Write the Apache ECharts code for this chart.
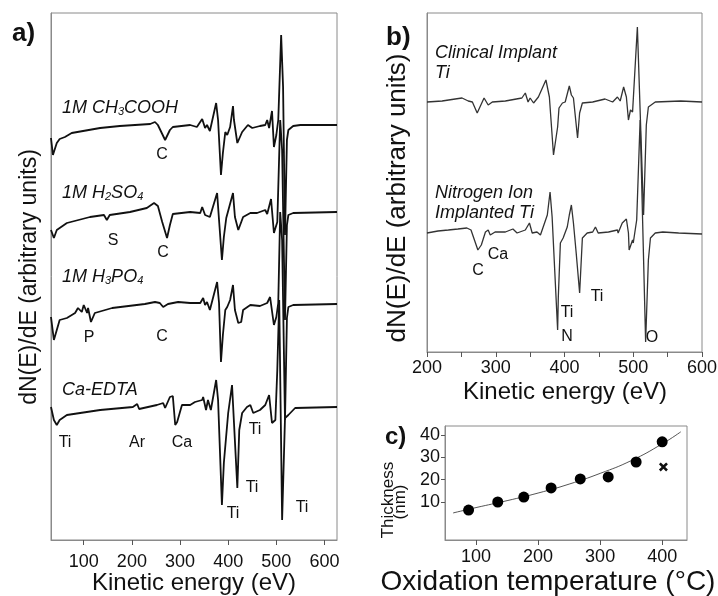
<!DOCTYPE html>
<html><head><meta charset="utf-8">
<script src="https://cdn.jsdelivr.net/npm/echarts@6/dist/echarts.min.js"></script>
<style>html,body{margin:0;padding:0;background:#fff}#c{width:718px;height:596px}</style>
</head><body><div id="c"></div>
<script>
// ---- Panel a: AES spectra (kinetic energy eV, arbitrary units) ----
const aTicks = [100, 200, 300, 400, 500, 600];
const specCH3COOH = [[32,402],[34,400],[36,385],[44,397],[50,401],[61,403],[75,407],[134,412],[175,414],[238,416],[248,418],[254,415],[263,406],[269,400],[273,402],[279,410],[285,413],[321,415],[335,413],[346,421],[352,412],[356,415],[362,409],[375,437],[379,420],[385,365],[389,387],[394,408],[398,405],[404,413],[410,434],[412,420],[419,397],[423,395],[429,408],[441,415],[450,412],[466,414],[477,415],[481,420],[485,412],[491,429],[495,393],[500,405],[504,420],[510,505],[514,453],[518,305],[522,400],[525,410],[535,414],[550,415],[626,415]];
const specH2SO4 = [[32,310],[38,302],[44,310],[65,317],[113,323],[142,325],[148,320],[154,325],[196,328],[231,332],[246,337],[254,334],[263,318],[273,302],[279,315],[285,326],[321,328],[342,327],[346,333],[352,325],[362,323],[377,347],[381,320],[387,280],[391,303],[396,322],[400,320],[410,347],[414,323],[421,310],[425,312],[431,323],[446,327],[460,327],[477,330],[481,326],[489,341],[495,307],[502,318],[508,420],[512,390],[518,220],[522,315],[525,325],[535,327],[626,328]];
const specH3PO4 = [[32,223],[34,223],[38,200],[44,210],[50,220],[65,222],[82,227],[88,232],[96,228],[100,235],[107,227],[109,232],[115,218],[123,227],[159,232],[227,236],[248,238],[258,237],[265,233],[275,236],[296,238],[321,237],[342,237],[348,242],[352,235],[356,238],[362,230],[377,258],[381,237],[385,178],[389,205],[394,230],[398,233],[404,240],[410,255],[414,230],[421,217],[427,218],[431,230],[446,235],[466,234],[481,237],[487,243],[495,215],[500,223],[504,237],[508,328],[512,300],[518,120],[522,222],[525,233],[535,235],[626,236]];
const specCaEDTA = [[32,133],[34,132],[38,120],[44,115],[50,120],[65,125],[134,130],[202,133],[211,136],[215,131],[252,135],[265,137],[269,132],[279,143],[285,144],[290,115],[294,118],[304,135],[321,135],[331,138],[346,140],[348,143],[354,130],[358,140],[364,130],[375,160],[379,140],[387,35],[391,77],[400,127],[408,155],[412,153],[419,52],[423,110],[429,127],[439,133],[446,135],[452,127],[466,130],[477,135],[485,145],[491,117],[498,120],[502,170],[506,240],[512,20],[518,122],[525,125],[539,132],[626,133]];

// ---- Panel b ----
const specClinical = [[200,250],[222,251],[241,253],[251,254],[260,251],[266,250],[273,239],[277,245],[283,254],[289,247],[295,250],[314,251],[338,254],[343,259],[347,250],[350,254],[355,249],[362,255],[373,272],[378,255],[384,197],[390,225],[392,244],[397,249],[401,250],[407,266],[410,257],[413,254],[419,214],[422,239],[426,249],[441,250],[459,253],[470,250],[477,255],[481,251],[486,265],[490,255],[493,232],[496,242],[499,240],[506,325],[515,137],[519,227],[522,245],[532,250],[569,251],[600,250]];
const specNitrogen = [[200,119],[216,121],[231,122],[245,123],[258,124],[264,122],[274,102],[279,107],[285,120],[289,122],[292,117],[299,120],[314,120],[325,123],[331,119],[343,122],[349,129],[353,119],[360,120],[365,117],[369,125],[375,137],[379,160],[382,135],[390,22],[391,55],[394,109],[398,114],[404,125],[407,137],[410,147],[413,129],[417,99],[422,59],[426,114],[433,119],[441,120],[445,125],[449,119],[464,120],[477,122],[478,119],[484,129],[490,133],[493,119],[494,102],[499,112],[500,109],[505,132],[510,232],[518,10],[522,92],[525,114],[532,119],[543,120],[566,119],[600,118]];
const bLabelTicks = [200, 300, 400, 500, 600];

// ---- Panel c ----
const tempC = [88, 135, 177, 221, 268, 313, 358, 400];
const thicknessNm = [6.4, 10, 12.2, 16.3, 20.3, 21.2, 27.9, 36.9];
const crossTemp = [402];
const crossThick = [25.7];
const fitTemp = [63, 100, 150, 200, 250, 300, 350, 400, 430];
const fitThick = [5.1, 7.5, 10.6, 14, 18, 22.8, 28.5, 36, 41.4];
const cXTicks = [100, 200, 300, 400];
const cYTicks = [10, 20, 30, 40];

const FONT = 'Liberation Sans, Arial, sans-serif';
const frame = '#8a8a8a';

function spec(data, idx, color, width) {
  return { type: 'line', data: data, xAxisIndex: idx, yAxisIndex: idx, showSymbol: false, symbol: 'none',
    lineStyle: { color: color, width: width }, silent: true, animation: false, z: 3 };
}
function txt(x, y, text, o) {
  o = o || {};
  return { type: 'text', x: x, y: y, rotation: o.rot || 0, z: 10,
    style: { text: text, fill: '#111', font: (o.style || 'normal') + ' ' + (o.weight || 'normal') + ' ' + (o.size || 16) + 'px ' + FONT,
      fontFamily: FONT, fontSize: o.size || 16, fontStyle: o.style || 'normal', fontWeight: o.weight || 'normal',
      align: o.align || 'center', verticalAlign: 'middle', textAlign: o.align || 'center', textVerticalAlign: 'middle',
      rich: o.rich } };
}
function chem(a, sub, b) {
  return '{n|' + a + '}{s|' + sub + '}{n|' + b + '}';
}
const richChem = {
  n: { fontSize: 18, fontStyle: 'italic', fontFamily: FONT, fill: '#111' },
  s: { fontSize: 11, fontStyle: 'italic', fontFamily: FONT, fill: '#111', verticalAlign: 'bottom' }
};

const gridBase = { show: true, borderColor: frame, borderWidth: 1, containLabel: false, outerBoundsMode: 'none' };
const tickLab = { color: '#111', fontSize: 18, fontFamily: FONT };

const option = {
  animation: false,
  backgroundColor: '#fff',
  grid: [
    Object.assign({ left: 51, top: 13, width: 286, height: 527 }, gridBase),
    Object.assign({ left: 427, top: 13, width: 275, height: 339 }, gridBase),
    Object.assign({ left: 445, top: 426, width: 242, height: 114 }, gridBase)
  ],
  xAxis: [
    { type: 'value', gridIndex: 0, min: 32, max: 626, splitLine: { show: false },
      axisLine: { onZero: false, lineStyle: { color: frame } },
      axisTick: { customValues: aTicks, length: 5, lineStyle: { color: '#555' } },
      axisLabel: Object.assign({ customValues: aTicks, margin: 13 }, tickLab) },
    { type: 'value', gridIndex: 1, min: 200, max: 600, interval: 50, splitLine: { show: false },
      axisLine: { onZero: false, lineStyle: { color: frame } },
      axisTick: { length: 5, lineStyle: { color: '#555' } },
      axisLabel: Object.assign({ customValues: bLabelTicks, margin: 7 }, tickLab) },
    { type: 'value', gridIndex: 2, min: 50, max: 440, splitLine: { show: false },
      axisLine: { onZero: false, lineStyle: { color: frame } },
      axisTick: { customValues: cXTicks, length: 5, lineStyle: { color: '#555' } },
      axisLabel: Object.assign({ customValues: cXTicks, margin: 8 }, tickLab) }
  ],
  yAxis: [
    { type: 'value', gridIndex: 0, min: 0, max: 527, splitLine: { show: false },
      axisLine: { show: true, onZero: false, lineStyle: { color: frame } }, axisTick: { show: false }, axisLabel: { show: false } },
    { type: 'value', gridIndex: 1, min: 0, max: 339, splitLine: { show: false },
      axisLine: { show: true, onZero: false, lineStyle: { color: frame } }, axisTick: { show: false }, axisLabel: { show: false } },
    { type: 'value', gridIndex: 2, min: -7, max: 44, splitLine: { show: false },
      axisLine: { show: true, onZero: false, lineStyle: { color: frame } },
      axisTick: { customValues: cYTicks, length: 4, lineStyle: { color: '#555' } },
      axisLabel: Object.assign({ customValues: cYTicks, margin: 5 }, tickLab) }
  ],
  series: [
    spec(specCH3COOH, 0, '#111', 1.8),
    spec(specH2SO4, 0, '#111', 1.8),
    spec(specH3PO4, 0, '#111', 1.8),
    spec(specCaEDTA, 0, '#111', 1.8),
    spec(specClinical, 1, '#333', 1.3),
    spec(specNitrogen, 1, '#333', 1.3),
    { type: 'line', xAxisIndex: 2, yAxisIndex: 2, data: fitTemp.map((t, i) => [t, fitThick[i]]), smooth: true,
      showSymbol: false, symbol: 'none', lineStyle: { color: '#555', width: 1 }, silent: true, z: 2 },
    { type: 'scatter', xAxisIndex: 2, yAxisIndex: 2, data: tempC.map((t, i) => [t, thicknessNm[i]]),
      symbol: 'circle', symbolSize: 11, itemStyle: { color: '#000', opacity: 1 }, silent: true, z: 4 },
    { type: 'scatter', xAxisIndex: 2, yAxisIndex: 2, data: crossTemp.map((t, i) => [t, crossThick[i]]),
      symbol: 'path://M2,0 L5,3 L8,0 L10,2 L7,5 L10,8 L8,10 L5,7 L2,10 L0,8 L3,5 L0,2 Z', symbolSize: 9,
      itemStyle: { color: '#111', opacity: 1 }, silent: true, z: 4 }
  ],
  graphic: [
    // panel letters
    txt(12, 34, 'a)', { size: 26, weight: 'bold', align: 'left' }),
    txt(386, 38, 'b)', { size: 26, weight: 'bold', align: 'left' }),
    txt(385, 437, 'c)', { size: 24, weight: 'bold', align: 'left' }),
    // axis titles
    txt(30, 277, 'dN(E)/dE (arbitrary units)', { size: 23, rot: Math.PI / 2 }),
    txt(194, 583, 'Kinetic energy (eV)', { size: 24 }),
    txt(398, 198, 'dN(E)/dE (arbitrary units)', { size: 26, rot: Math.PI / 2 }),
    txt(565, 392, 'Kinetic energy (eV)', { size: 24 }),
    txt(388, 500, 'Thickness', { size: 17, rot: Math.PI / 2 }),
    txt(400, 502, '(nm)', { size: 17, rot: Math.PI / 2 }),
    txt(548, 582, 'Oxidation temperature (°C)', { size: 28 }),
    // panel a annotations
    txt(62, 108, chem('1M CH', '3', 'COOH'), { align: 'left', rich: richChem, size: 18, style: 'italic' }),
    txt(62, 193, chem('1M H', '2', 'SO') + '{s|4}', { align: 'left', rich: richChem, size: 18, style: 'italic' }),
    txt(62, 277, chem('1M H', '3', 'PO') + '{s|4}', { align: 'left', rich: richChem, size: 18, style: 'italic' }),
    txt(62, 390, 'Ca-EDTA', { align: 'left', size: 18, style: 'italic' }),
    txt(162, 155, 'C'), txt(113, 241, 'S'), txt(163, 253, 'C'),
    txt(89, 338, 'P'), txt(162, 337, 'C'),
    txt(65, 443, 'Ti'), txt(137, 443, 'Ar'), txt(182, 443, 'Ca'),
    txt(255, 430, 'Ti'), txt(252, 488, 'Ti'), txt(233, 514, 'Ti'), txt(302, 508, 'Ti'),
    // panel b annotations
    txt(435, 53, 'Clinical Implant', { align: 'left', size: 18, style: 'italic' }),
    txt(435, 73, 'Ti', { align: 'left', size: 18, style: 'italic' }),
    txt(435, 193, 'Nitrogen Ion', { align: 'left', size: 18, style: 'italic' }),
    txt(435, 213, 'Implanted Ti', { align: 'left', size: 18, style: 'italic' }),
    txt(478, 271, 'C'), txt(498, 255, 'Ca'), txt(567, 313, 'Ti'), txt(567, 337, 'N'),
    txt(597, 297, 'Ti'), txt(652, 338, 'O')
  ]
};
const chart = echarts.init(document.getElementById('c'), null, { renderer: 'canvas' });
chart.setOption(option);
</script></body></html>
